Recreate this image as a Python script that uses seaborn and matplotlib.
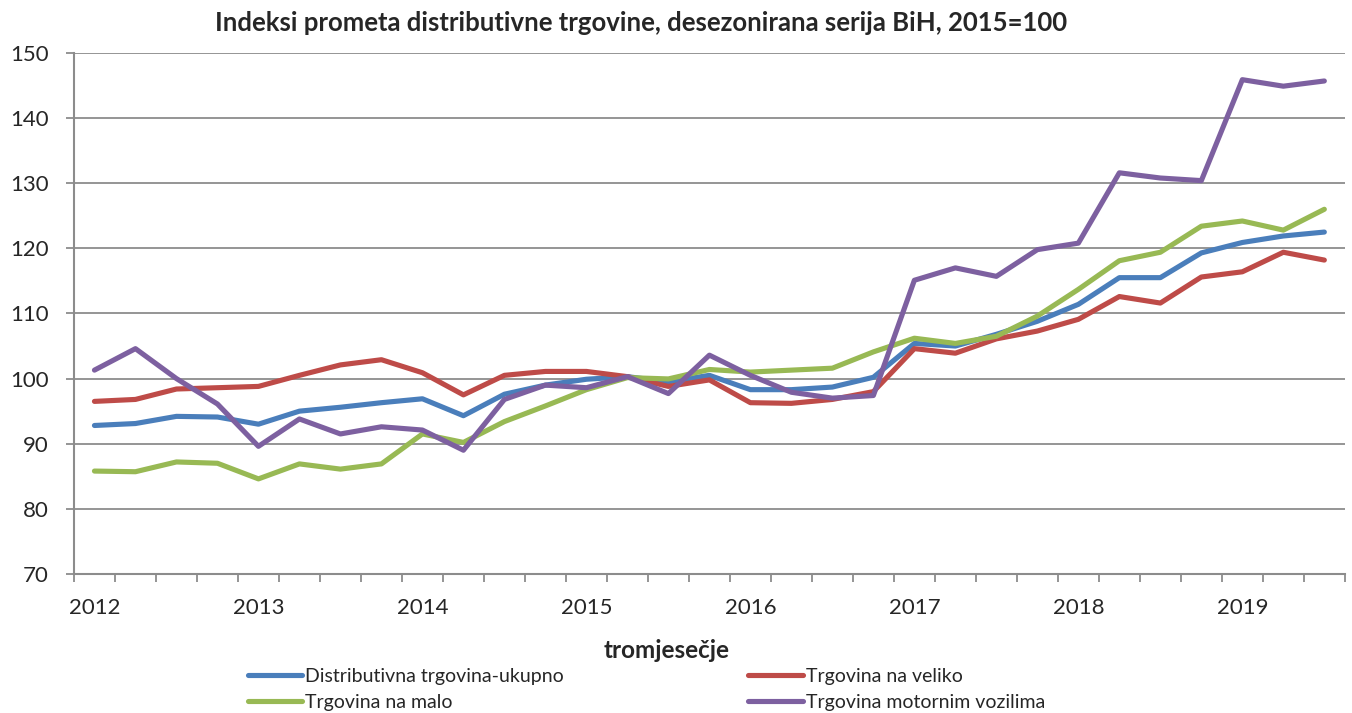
import numpy as np
import pandas as pd
import matplotlib
matplotlib.use("Agg")
import matplotlib.pyplot as plt
import seaborn as sns
from matplotlib.lines import Line2D

years = ["2012", "2013", "2014", "2015", "2016", "2017", "2018", "2019"]
quarters = [f"{y}Q{q}" for y in years for q in range(1, 5)][:31]

ukupno = [92.8, 93.1, 94.2, 94.1, 93.0, 95.0, 95.6, 96.3, 96.9, 94.3, 97.6, 99.0,
          99.9, 100.3, 99.5, 100.5, 98.3, 98.3, 98.7, 100.2, 105.4, 105.0, 106.8,
          108.8, 111.4, 115.5, 115.5, 119.3, 120.9, 121.9, 122.5]
veliko = [96.5, 96.8, 98.4, 98.6, 98.8, 100.5, 102.1, 102.9, 100.9, 97.5, 100.5, 101.1,
          101.1, 100.3, 98.8, 99.8, 96.3, 96.2, 96.8, 98.0, 104.6, 103.9, 106.1,
          107.3, 109.1, 112.6, 111.6, 115.6, 116.4, 119.4, 118.2]
malo = [85.8, 85.7, 87.2, 87.0, 84.6, 86.9, 86.1, 86.9, 91.5, 90.2, 93.4, 95.8,
        98.3, 100.15, 99.95, 101.4, 101.0, 101.3, 101.6, 104.1, 106.2, 105.4, 106.5,
        109.6, 113.7, 118.1, 119.4, 123.4, 124.2, 122.8, 126.0]
motorna = [101.3, 104.6, 100.0, 96.1, 89.6, 93.8, 91.5, 92.6, 92.1, 89.0, 96.8, 99.0,
           98.6, 100.3, 97.7, 103.6, 100.5, 97.9, 97.0, 97.4, 115.1, 117.0, 115.7,
           119.8, 120.8, 131.6, 130.8, 130.4, 145.9, 144.9, 145.7]

series_names = ["Distributivna trgovina-ukupno", "Trgovina na veliko",
                "Trgovina na malo", "Trgovina motornim vozilima"]
colors = ["#4A7EBB", "#BE4B48", "#98B954", "#7D60A0"]

title = "Indeksi prometa distributivne trgovine, desezonirana serija BiH, 2015=100"
xlabel = "tromjesečje"
yticks = [70, 80, 90, 100, 110, 120, 130, 140, 150]

rows = []
for name, vals in zip(series_names, [ukupno, veliko, malo, motorna]):
    for i, v in enumerate(vals):
        rows.append({"idx": i, "value": v, "serija": name})
df = pd.DataFrame(rows)

sns.set_theme(style="white")
plt.rcParams["font.family"] = ["Lato", "DejaVu Sans"]

fig = plt.figure(figsize=(13.52, 7.13), dpi=100)
ax = fig.add_axes([0.0547, 0.195, 0.940, 0.7307])

sns.lineplot(data=df, x="idx", y="value", hue="serija", palette=colors,
             hue_order=series_names, linewidth=3.7, ax=ax, legend=False,
             solid_capstyle="round", solid_joinstyle="round")

ax.set_xlim(-0.5, len(quarters) - 0.5)
ax.set_ylim(70, 150)
ax.set_yticks(yticks)
ax.set_yticklabels([str(t) for t in yticks], fontsize=16)
ax.grid(axis="y", color="#8C8C8C", linewidth=1.3)
ax.set_axisbelow(True)

ax.set_xticks(np.arange(-0.5, len(quarters), 1.0))
ax.set_xticklabels([])
ax.set_xticks(np.arange(0, len(quarters), 4), minor=True)
ax.set_xticklabels(years, minor=True, fontsize=16)
ax.tick_params(axis="x", which="major", length=6, width=1.3, color="#8C8C8C", direction="out", bottom=True)
ax.tick_params(axis="x", which="minor", length=0, pad=17, bottom=True)
ax.tick_params(axis="y", length=6, width=1.3, color="#8C8C8C", direction="out", left=True, pad=12)

for s in ["top", "right"]:
    ax.spines[s].set_visible(False)
for s in ["left", "bottom"]:
    ax.spines[s].set_color("#8C8C8C")
    ax.spines[s].set_linewidth(1.5)

ax.set_xlabel("")
ax.set_ylabel("")
fig.text(0.4934, 0.087, xlabel, ha="center", va="center", fontsize=17.5, fontweight="bold")
fig.text(0.474, 0.968, title, ha="center", va="center", fontsize=18.5, fontweight="bold")

handles = [Line2D([0], [0], color=c, linewidth=3.7, solid_capstyle="round") for c in colors]
order = [0, 2, 1, 3]
fig.legend([handles[i] for i in order], [series_names[i] for i in order],
           loc="center", bbox_to_anchor=(0.478, 0.033), ncol=2, frameon=False,
           fontsize=14, handlelength=2.8, handletextpad=0.15, columnspacing=9.5,
           labelspacing=0.45)

fig.savefig("out.png", dpi=100)
